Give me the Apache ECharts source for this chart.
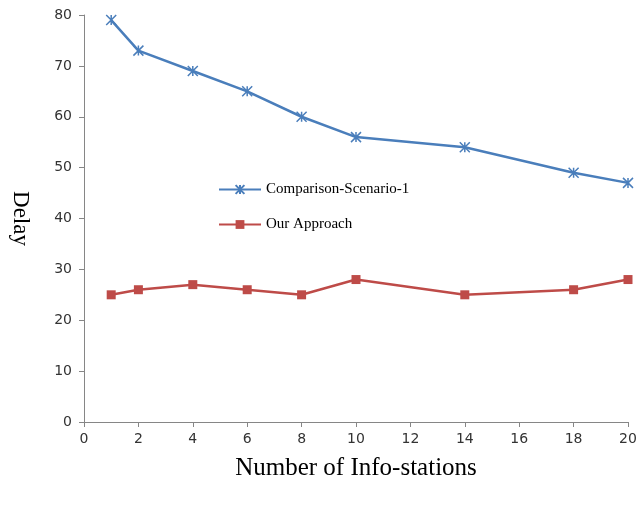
<!DOCTYPE html>
<html>
<head>
<meta charset="utf-8">
<script src="https://cdn.jsdelivr.net/npm/echarts@6/dist/echarts.min.js"></script>
<style>html,body{margin:0;padding:0;background:#fff}#c{width:642px;height:508px}</style>
</head>
<body>
<div id="c"></div>
<script>
const xValues = [1, 2, 4, 6, 8, 10, 14, 18, 20];
const comparison = [79, 73, 69, 65, 60, 56, 54, 49, 47];
const ourApproach = [25, 26, 27, 26, 25, 28, 25, 26, 28];
const seriesNames = ['Comparison-Scenario-1', 'Our Approach'];
const xTitle = 'Number of Info-stations';
const yTitle = 'Delay';

const pair = (xs, ys) => xs.map((x, i) => [x, ys[i]]);
const star = 'path://M0,0L10,10M10,0L0,10M5,0L5,10';

const chart = echarts.init(document.getElementById('c'), null, {renderer: 'canvas'});
chart.setOption({
  animation: false,
  backgroundColor: '#fff',
  grid: {left: 84, right: 14, top: 15, bottom: 86, containLabel: false, outerBoundsMode: 'none'},
  legend: {
    left: 213, top: 177, orient: 'vertical', itemGap: 20, itemWidth: 42, itemHeight: 11,
    textStyle: {fontFamily: 'Liberation Serif', fontSize: 15, color: '#000'},
    data: seriesNames
  },
  xAxis: {
    type: 'value', min: 0, max: 20, interval: 2,
    name: xTitle, nameLocation: 'middle', nameGap: 34,
    nameTextStyle: {fontFamily: 'Liberation Serif', fontSize: 25, color: '#000'},
    axisLine: {lineStyle: {color: '#868686', width: 1}},
    axisTick: {show: true, length: 5, lineStyle: {color: '#868686'}},
    axisLabel: {fontFamily: 'DejaVu Sans', fontSize: 14, color: '#333', margin: 10},
    splitLine: {show: false}
  },
  yAxis: {
    type: 'value', min: 0, max: 80, interval: 10,
    name: yTitle, nameLocation: 'middle', nameGap: 52, nameRotate: -90,
    nameTextStyle: {fontFamily: 'Liberation Serif', fontSize: 23, color: '#000'},
    axisLine: {show: true, lineStyle: {color: '#868686', width: 1}},
    axisTick: {show: true, length: 5, lineStyle: {color: '#868686'}},
    axisLabel: {fontFamily: 'DejaVu Sans', fontSize: 14, color: '#333', margin: 12},
    splitLine: {show: false}
  },
  series: [
    {
      name: seriesNames[0], type: 'line', data: pair(xValues, comparison),
      lineStyle: {color: '#4a7ebb', width: 2.5},
      symbol: star, symbolSize: 10,
      itemStyle: {color: '#4a7ebb', borderColor: '#4a7ebb', borderWidth: 1.5}
    },
    {
      name: seriesNames[1], type: 'line', data: pair(xValues, ourApproach),
      lineStyle: {color: '#be4b48', width: 2.5},
      symbol: 'rect', symbolSize: 9,
      itemStyle: {color: '#be4b48'}
    }
  ]
});
</script>
</body>
</html>
